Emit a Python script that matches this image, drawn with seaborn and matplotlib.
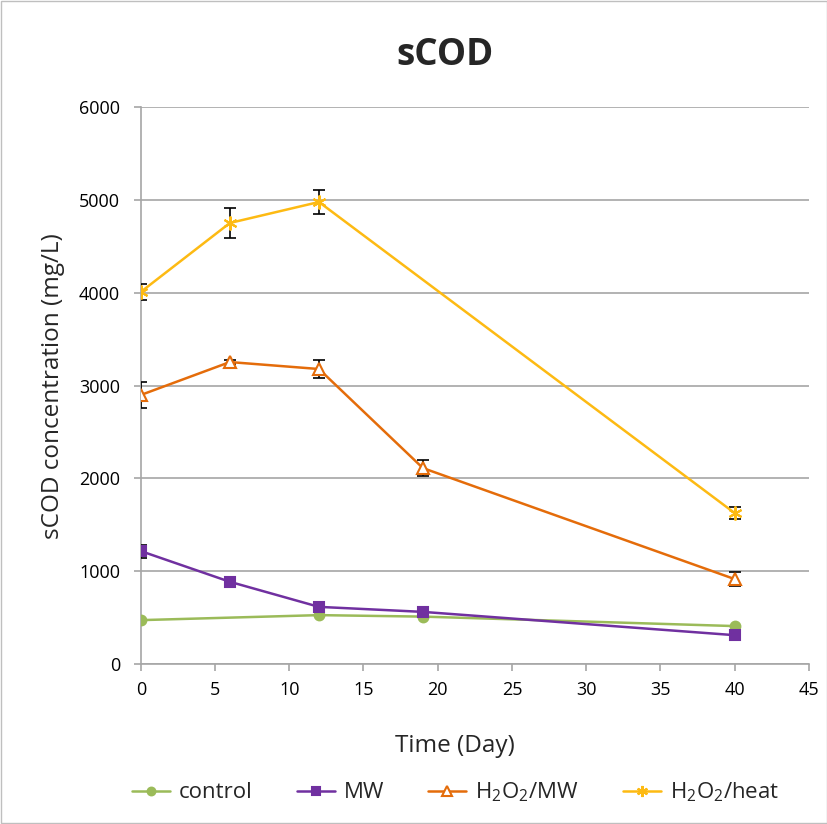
import numpy as np
import pandas as pd
import matplotlib
matplotlib.use("Agg")
import matplotlib.pyplot as plt
import seaborn as sns

# values
days_control = [0, 12, 19, 40]
control = [474, 528, 512, 410]

days_mw = [0, 6, 12, 19, 40]
mw = [1218, 887, 617, 563, 312]
mw_err = [70, 0, 0, 0, 0]

days_h2o2_mw = [0, 6, 12, 19, 40]
h2o2_mw = [2899, 3254, 3179, 2112, 916]
h2o2_mw_err = [135, 20, 100, 90, 75]

days_h2o2_heat = [0, 6, 12, 40]
h2o2_heat = [4009, 4752, 4978, 1627]
h2o2_heat_err = [85, 165, 130, 65]

sns.set_theme(style="white")
plt.rcParams['font.family'] = ['Open Sans', 'DejaVu Sans']
plt.rcParams['mathtext.fontset'] = 'custom'
plt.rcParams['mathtext.rm'] = 'Open Sans'
plt.rcParams['mathtext.it'] = 'Open Sans'

fig = plt.figure(figsize=(8.28, 8.24), dpi=100)
ax = fig.add_axes([0.170, 0.194, 0.807, 0.676])

series = [
    ("control", days_control, control, None, "#9BBB59", "o", 7, "#9BBB59"),
    ("MW", days_mw, mw, mw_err, "#7030A0", "s", 7, "#7030A0"),
    ("H$_2$O$_2$/MW", days_h2o2_mw, h2o2_mw, h2o2_mw_err, "#E46C0A", "^", 9, "white"),
    ("H$_2$O$_2$/heat", days_h2o2_heat, h2o2_heat, h2o2_heat_err, "#FDBA13", (6, 2, 0), 10, "#FDBA13"),
]

for name, xs, ys, err, col, mk, ms, fc in series:
    if err is not None:
        ax.errorbar(xs, ys, yerr=err, fmt='none', ecolor='black', elinewidth=1.2,
                    capsize=4, capthick=1.2, zorder=3)
    df = pd.DataFrame({"day": xs, "value": ys})
    sns.lineplot(data=df, x="day", y="value", ax=ax, color=col, marker=mk,
                 markersize=ms, markerfacecolor=fc, markeredgecolor=col,
                 markeredgewidth=1.5, linewidth=1.8, label=name, zorder=4)

ax.set_xlim(0, 45)
ax.set_ylim(0, 6000)
ax.set_xticks(range(0, 50, 5))
ax.set_yticks(range(0, 7000, 1000))
ax.yaxis.grid(True, color="#A6A6A6", linewidth=1.2)
ax.xaxis.grid(False)
for s in ["top", "right"]:
    ax.spines[s].set_visible(False)
for s in ["left", "bottom"]:
    ax.spines[s].set_color("#A6A6A6")
    ax.spines[s].set_linewidth(1.2)
ax.tick_params(axis='both', labelsize=13, colors="#A6A6A6", labelcolor="black",
               length=5, width=1.2, direction='out', bottom=True, left=True)
ax.tick_params(axis='x', pad=7)
ax.tick_params(axis='y', pad=10)
ax.set_axisbelow(True)

ax.set_xlabel("Time (Day)", fontsize=17.5)
ax.xaxis.set_label_coords(0.47, -0.125)
ax.set_ylabel("sCOD concentration (mg/L)", fontsize=17.5, labelpad=10)
fig.text(0.538, 0.933, "sCOD", fontsize=26.5, fontweight="bold", ha="center", va="center")

handles, labels = ax.get_legend_handles_labels()
ax.get_legend().remove()
fig.legend(handles, labels, loc="lower center", bbox_to_anchor=(0.55, 0.0), ncol=4,
           frameon=False, fontsize=16, handlelength=1.7, handletextpad=0.4,
           columnspacing=2.0, markerscale=0.8)

fig.patches.append(plt.Rectangle((0.001, 0.001), 0.998, 0.998, transform=fig.transFigure,
                                 fill=False, edgecolor="#BFBFBF", linewidth=1))

fig.savefig("out.png", dpi=100)
